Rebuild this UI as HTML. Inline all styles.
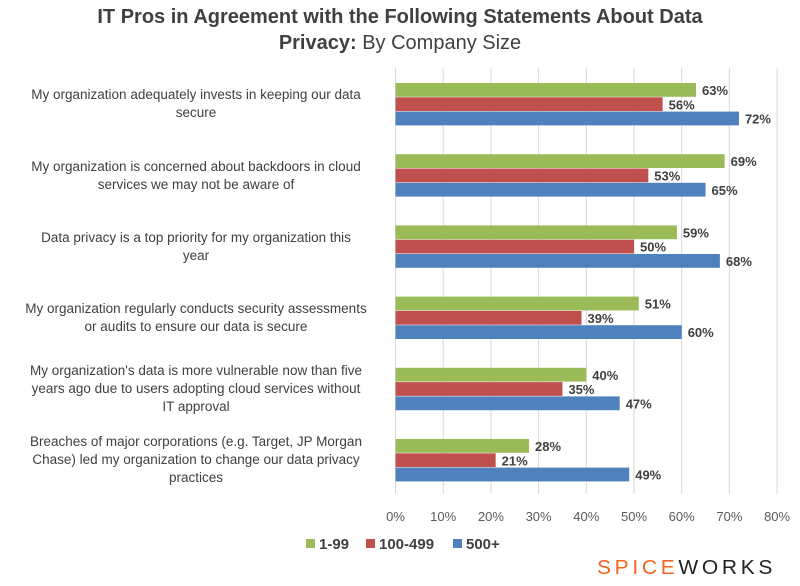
<!DOCTYPE html>
<html><head><meta charset="utf-8"><style>
body{margin:0;background:#fff;font-family:"Liberation Sans",sans-serif;}
#c{position:relative;width:800px;height:586px;overflow:hidden;}
.t{position:absolute;left:0;width:800px;text-align:center;font-size:20px;color:#404040;}
.cat{position:absolute;left:0;width:392px;text-align:center;font-size:13.5px;color:#404040;line-height:18px;}
</style></head><body>
<div id="c">
<div class="t" style="top:6px;font-weight:bold">IT Pros in Agreement with the Following Statements About Data</div>
<div class="t" style="top:32px"><b>Privacy:</b> By Company Size</div>
<svg id="s" width="800" height="586" style="position:absolute;left:0;top:0"></svg>
<div id="cats"></div>
<div style="position:absolute;left:597px;top:557px;font-size:20px;letter-spacing:3.5px;transform:scaleX(1.05);transform-origin:left;font-family:'Liberation Sans',sans-serif"><span style="color:#f26522">SPICE</span><span style="color:#222">WORKS</span></div>
</div>
<script>
const categories=["My organization adequately invests in keeping our data secure","My organization is concerned about backdoors in cloud services we may not be aware of","Data privacy is a top priority for my organization this year","My organization regularly conducts security assessments or audits to ensure our data is secure","My organization's data is more vulnerable now than five years ago due to users adopting cloud services without IT approval","Breaches of major corporations (e.g. Target, JP Morgan Chase) led my organization to change our data privacy practices"];
const catLines=[["My organization adequately invests in keeping our data","secure"],["My organization is concerned about backdoors in cloud","services we may not be aware of"],["Data privacy is a top priority for my organization this","year"],["My organization regularly conducts security assessments","or audits to ensure our data is secure"],["My organization's data is more vulnerable now than five","years ago due to users adopting cloud services without","IT approval"],["Breaches of major corporations (e.g. Target, JP Morgan","Chase) led my organization to change our data privacy","practices"]];
const s1=[63,69,59,51,40,28];
const s2=[56,53,50,39,35,21];
const s3=[72,65,68,60,47,49];
const seriesNames=["1-99","100-499","500+"];
const colors=["#9bbb59","#c0504d","#4f81bd"];
const ticks=[0,10,20,30,40,50,60,70,80];
const x0=395.5,pxPer=4.77,top0=83,groupH=71.2,barH=14.3;
const X=v=>x0+v*pxPer;
const svg=document.getElementById('s');const NS="http://www.w3.org/2000/svg";
function el(n,a){const e=document.createElementNS(NS,n);for(const k in a)e.setAttribute(k,a[k]);svg.appendChild(e);return e;}
ticks.forEach(t=>{
const g=el('line',{x1:X(t),x2:X(t),y1:68,y2:494,stroke:'#d9d9d9','stroke-width':1});


const tx=el('text',{x:X(t),y:521,'text-anchor':'middle','font-size':13,fill:'#595959','font-family':'Liberation Sans, sans-serif'});
tx.textContent=t+'%';


});
[s1,s2,s3].forEach((ser,si)=>{ser.forEach((v,i)=>{
const y=top0+i*groupH+si*barH;
const r=el('rect',{x:X(0),y:y,width:X(v)-X(0),height:barH-0.5,fill:colors[si]});


const tx=el('text',{x:X(v)+6,y:y+12,'font-size':13,'font-weight':'bold',fill:'#404040','font-family':'Liberation Sans, sans-serif'});
tx.textContent=v+'%';


});});
const cats=document.getElementById('cats');
catLines.forEach((ls,i)=>{
const d=document.createElement('div');d.className='cat';
const cy=top0+i*groupH+barH*1.5;
d.style.top=(cy-ls.length*9)+'px';
d.innerHTML=ls.join('<br>');


cats.appendChild(d);
});
let lx=306;
seriesNames.forEach((n,i)=>{
const r=el('rect',{x:lx,y:539,width:9,height:9,fill:colors[i]});


const t=el('text',{x:lx+13,y:549,'font-size':15,'font-weight':'bold',fill:'#404040','font-family':'Liberation Sans, sans-serif'});
t.textContent=n;


lx+=[60,87,0][i];
});
</script>
</body></html>
